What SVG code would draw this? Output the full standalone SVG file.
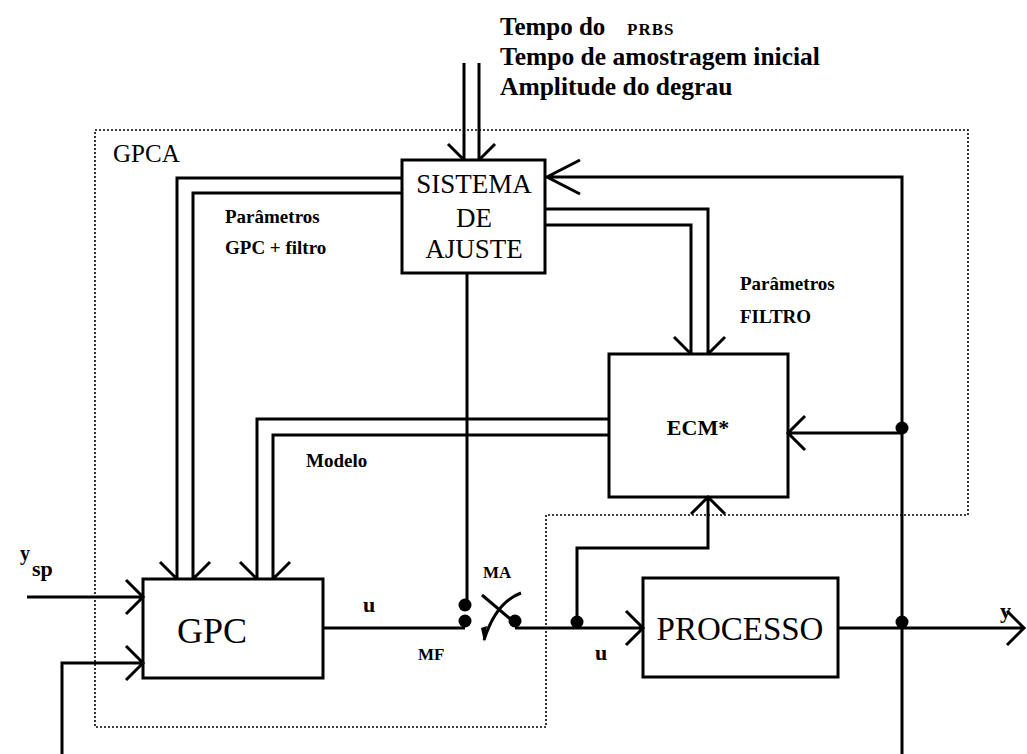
<svg xmlns="http://www.w3.org/2000/svg" width="1027" height="754" viewBox="0 0 1027 754">
<style>
.box{fill:none;stroke:#000;stroke-width:3}
.ln{fill:none;stroke:#000;stroke-width:3;stroke-linejoin:miter}
.dot{fill:#000}
.b{font-family:"Liberation Serif",serif;font-weight:bold;fill:#000}
.r{font-family:"Liberation Serif",serif;fill:#000}
.border{fill:none;stroke:#000;stroke-width:1.6;stroke-dasharray:2,2}
</style>
<rect width="1027" height="754" fill="#fff"/>
<path class="border" d="M95,130 H968 V515 H546 V727 H95 Z"/>
<text class="r" x="113" y="162" font-size="25">GPCA</text>
<g id="inputs-text">
<text class="b" x="500" y="35" font-size="25">Tempo do</text>
<text class="b" x="627" y="35" font-size="17" letter-spacing="1">PRBS</text>
<text class="b" x="500" y="65" font-size="25.5">Tempo de amostragem inicial</text>
<text class="b" x="500" y="95" font-size="25.5">Amplitude do degrau</text>
</g>
<g id="connectors">
<path class="ln" d="M464,63 V160 M479,63 V160 M448,144 L464,160 M495,144 L479,160"/>
<path class="ln" d="M902,754 V177 H547 M580,160 L547,177 L580,194"/>
<path class="ln" d="M402,178 H177 V579 M402,193 H193 V579 M160,562 L177,579 M210,562 L193,579"/>
<path class="ln" d="M545,209 H708 V354 M545,225 H691 V354 M674,337 L691,354 M725,337 L708,354"/>
<path class="ln" d="M609,419 H257 V579 M609,435 H273 V579 M240,562 L257,579 M290,562 L273,579"/>
<path class="ln" d="M467,273 V605"/>
<path class="ln" d="M323,628 H465"/>
<path class="ln" d="M515,628 H643 M626,611 L643,628 L626,645"/>
<path class="ln" d="M577,624 V548 H708 V497 M691,514 L708,497 L725,514"/>
<path class="ln" d="M902,433 H788 M805,416 L788,433 L805,450"/>
<path class="ln" d="M838,628 H1024 M1007,611 L1024,628 L1007,645"/>
<path class="ln" d="M27,597 H143 M126,580 L143,597 L126,614"/>
<path class="ln" d="M62,754 V663 H143 M126,646 L143,663 L126,680"/>
<path class="ln" d="M482,595 L515,623"/>
<path class="ln" d="M521,593 Q496,602 484,640"/>
<path class="dot" d="M481,628 L487,626 L484,642 Z"/>
<circle class="dot" cx="465" cy="605" r="6.5"/>
<circle class="dot" cx="465" cy="621" r="6.5"/>
<circle class="dot" cx="515" cy="621" r="6.5"/>
<circle class="dot" cx="577" cy="622" r="6.5"/>
<circle class="dot" cx="902" cy="622" r="6.5"/>
<circle class="dot" cx="902" cy="428" r="6.5"/>
</g>
<g id="sistema">
<rect class="box" x="402" y="160" width="143" height="113"/>
<text class="r" x="474" y="193" font-size="27" text-anchor="middle">SISTEMA</text>
<text class="r" x="474" y="227" font-size="27" text-anchor="middle">DE</text>
<text class="r" x="474" y="258" font-size="27" text-anchor="middle">AJUSTE</text>
</g>
<g id="ecm">
<rect class="box" x="609" y="354" width="179" height="143"/>
<text class="b" x="698" y="435" font-size="22" text-anchor="middle">ECM*</text>
</g>
<g id="gpc">
<rect class="box" x="143" y="579" width="180" height="99"/>
<text class="r" x="212" y="643" font-size="36" text-anchor="middle">GPC</text>
</g>
<g id="processo">
<rect class="box" x="643" y="578" width="195" height="99"/>
<text class="r" x="740" y="640" font-size="33" text-anchor="middle">PROCESSO</text>
</g>
<g id="labels">
<text class="b" x="225" y="223" font-size="19">Parâmetros</text>
<text class="b" x="225" y="254" font-size="19">GPC + filtro</text>
<text class="b" x="740" y="290" font-size="19">Parâmetros</text>
<text class="b" x="740" y="323" font-size="19">FILTRO</text>
<text class="b" x="306" y="467" font-size="19">Modelo</text>
<text class="b" x="363" y="612" font-size="22">u</text>
<text class="b" x="418" y="660" font-size="17">MF</text>
<text class="b" x="483" y="578" font-size="17">MA</text>
<text class="b" x="595" y="660" font-size="22">u</text>
<text class="b" x="20" y="560" font-size="20">y</text>
<text class="b" x="32" y="576" font-size="22">sp</text>
<text class="b" x="1000" y="618" font-size="22">y</text>
</g>
</svg>
